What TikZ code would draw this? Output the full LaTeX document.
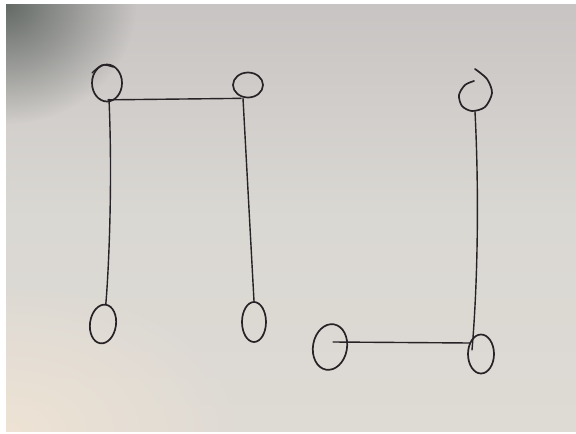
\documentclass[tikz,border=0pt]{standalone}
\usetikzlibrary{shapes.geometric,calc,fadings}
\definecolor{paper}{RGB}{218,216,211}
\definecolor{ink}{RGB}{38,34,38}
\definecolor{shadowc}{RGB}{100,106,102}
\definecolor{warm}{RGB}{238,227,212}
\definecolor{cool}{RGB}{200,196,195}
\definecolor{lowc}{RGB}{222,218,212}
\tikzfading[name=softfade, inner color=transparent!0, outer color=transparent!100]
\begin{document}
\begin{tikzpicture}[x=1pt,y=-1pt,
  vtx/.style={ellipse,draw=ink,line width=1.7pt,inner sep=0pt},
  edge/.style={draw=ink,line width=1.4pt,line cap=round},
  stroke/.style={draw=ink,line width=1.7pt,line cap=round}]
\useasboundingbox (0,0) rectangle (576,434);
\fill[white] (0,0) rectangle (576,434);
\begin{scope}
  \clip (6,4) rectangle (576,431);
  \shade[top color=cool, bottom color=lowc, middle color=paper] (6,4) rectangle (576,431);
  \fill[warm, path fading=softfade] (6,431) ellipse [x radius=240, y radius=150];
  \fill[shadowc, path fading=softfade] (6,4) ellipse [x radius=130, y radius=120];
\end{scope}
% vertices
\node[vtx, minimum width=30pt, minimum height=37pt] (A) at (107,83) {};
\node[vtx, minimum width=30pt, minimum height=25pt] (B) at (248,85) {};
\node[vtx, minimum width=26pt, minimum height=39pt, rotate=-8] (C) at (103,324) {};
\node[vtx, minimum width=24pt, minimum height=40pt] (D) at (254,322) {};
\node[ellipse, minimum width=34pt, minimum height=41pt, inner sep=0pt] (E) at (475,91) {};
\node[vtx, minimum width=34pt, minimum height=46pt, rotate=-10] (F) at (330,347) {};
\node[vtx, minimum width=26pt, minimum height=39pt] (G) at (481,354) {};
% open hand-drawn loop of E and extra stroke on A
\begin{scope}[shift={(E.center)}]
  \draw[stroke] plot[smooth] coordinates {(-1,-10) (-10,-6) (-16,4) (-13,15) (-3,20) (10,16) (17,2) (12,-12) (0,-22)};
\end{scope}
\begin{scope}[shift={(A.center)}]
  \draw[stroke, line width=1.3pt] plot[smooth] coordinates {(-15,-10) (-5,-18) (6,-16)};
\end{scope}
% edges
\draw[edge] ($(A.south)+(1,-2.5)$) -- ($(B.south)+(-7,0)$);
\draw[edge] ($(A.south)+(2,-3)$) .. controls (113,190) and (108,280) .. (C.north);
\draw[edge] ($(B.south)+(-5,0)$) -- (D.north);
\draw[edge] (E.south) .. controls (479,190) and (478,280) .. ($(G.center)+(-9,-4)$);
\draw[edge] ($(F.center)+(3,-5)$) -- ($(G.center)+(-11,-11)$);
\end{tikzpicture}
\end{document}
